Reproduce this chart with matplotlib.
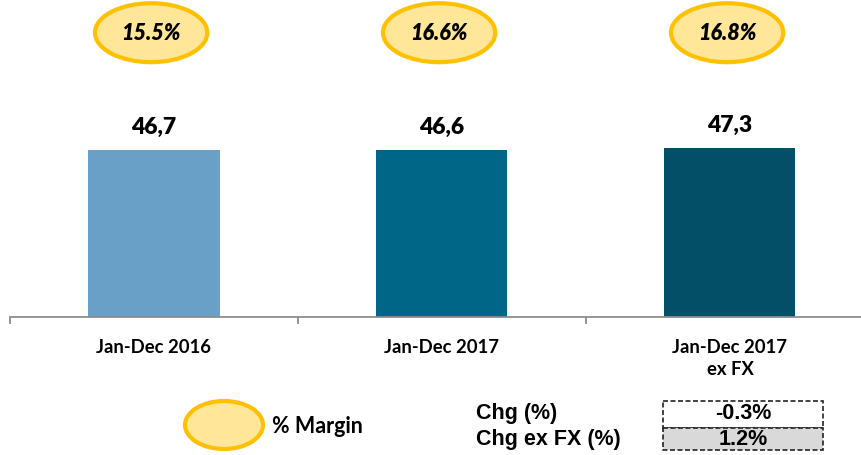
import matplotlib
matplotlib.use("Agg")
import matplotlib.pyplot as plt
from matplotlib.patches import Ellipse, Rectangle

categories = ["Jan-Dec 2016", "Jan-Dec 2017", "Jan-Dec 2017\nex FX"]
values = [46.7, 46.6, 47.3]
value_labels = ["46,7", "46,6", "47,3"]
margins = ["15.5%", "16.6%", "16.8%"]
bar_colors = ["#68A0C8", "#006688", "#034F68"]
chg_labels = ["Chg (%)", "Chg ex FX (%)"]
chg_values = ["-0.3%", "1.2%"]

W, H = 861, 456
fig = plt.figure(figsize=(W / 100, H / 100), dpi=100)
ax = fig.add_axes([10 / W, (H - 318) / H, 1 - 10 / W, 318 / H])
x = list(range(len(categories)))
ax.bar(x, values, width=0.455, color=bar_colors, zorder=2)

for s in ["top", "right", "left"]:
    ax.spines[s].set_visible(False)
ax.spines["bottom"].set_color("#8C8C8C")
ax.spines["bottom"].set_linewidth(1.3)
ax.set_yticks([])
ax.set_xticks([-0.5, 0.5, 1.5, 2.5])
ax.set_xticklabels([])
ax.tick_params(axis="x", which="major", length=5, color="#8C8C8C", width=1.3, direction="out")
ax.set_xticks(x, minor=True)
ax.set_xticklabels(categories, minor=True, fontfamily="Lato", fontweight="bold",
                   fontsize=13.3, linespacing=1.35, va="top")
ax.tick_params(axis="x", which="minor", length=0, pad=15)
ax.set_xlim(-0.5, 2.455)
ax.set_ylim(0, 318 / 3.576)

for xi, v, lab in zip(x, values, value_labels):
    ax.annotate(lab, (xi, v), xytext=(0, 17), textcoords="offset points",
                ha="center", va="center", fontfamily="Lato", fontweight="heavy", fontsize=16.5)

trans = ax.get_xaxis_transform()
for xi, m in zip(x, margins):
    e = Ellipse((xi - 0.01, 0.894), width=0.39, height=0.1855, transform=trans,
                facecolor="#FFE699", edgecolor="#FFC000", linewidth=3, clip_on=False, zorder=3)
    ax.add_patch(e)
    ax.text(xi - 0.01, 0.894, m, transform=trans, ha="center", va="center",
            fontfamily="Lato", fontweight="heavy", fontstyle="italic", fontsize=15.5, zorder=4)

# legend / change table overlay in pixel coords
ov = fig.add_axes([0, 0, 1, 1])
ov.set_xlim(0, W)
ov.set_ylim(H, 0)
ov.axis("off")
ov.add_patch(Ellipse((224, 426), 78, 48, facecolor="#FFE699", edgecolor="#FFC000", linewidth=3))
ov.text(272, 427, "% Margin", ha="left", va="center", fontfamily="Lato",
        fontweight="bold", fontsize=15.5)

ys = [414, 440]
box_tops = [402, 429]
box_h = [27, 22]
fills = ["white", "#D9D9D9"]
for lab, val, y, bt, bh, fc in zip(chg_labels, chg_values, ys, box_tops, box_h, fills):
    ov.text(476, y, lab, ha="left", va="center", fontfamily="Liberation Sans",
            fontweight="bold", fontsize=15.5)
    ov.add_patch(Rectangle((663, bt), 160, bh, facecolor=fc, edgecolor="#222222",
                           linewidth=1.2, linestyle=(0, (3, 1.5))))
    ov.text(743, y, val, ha="center", va="center", fontfamily="Liberation Sans",
            fontweight="bold", fontsize=15.5)

fig.savefig("out.png", dpi=100)
